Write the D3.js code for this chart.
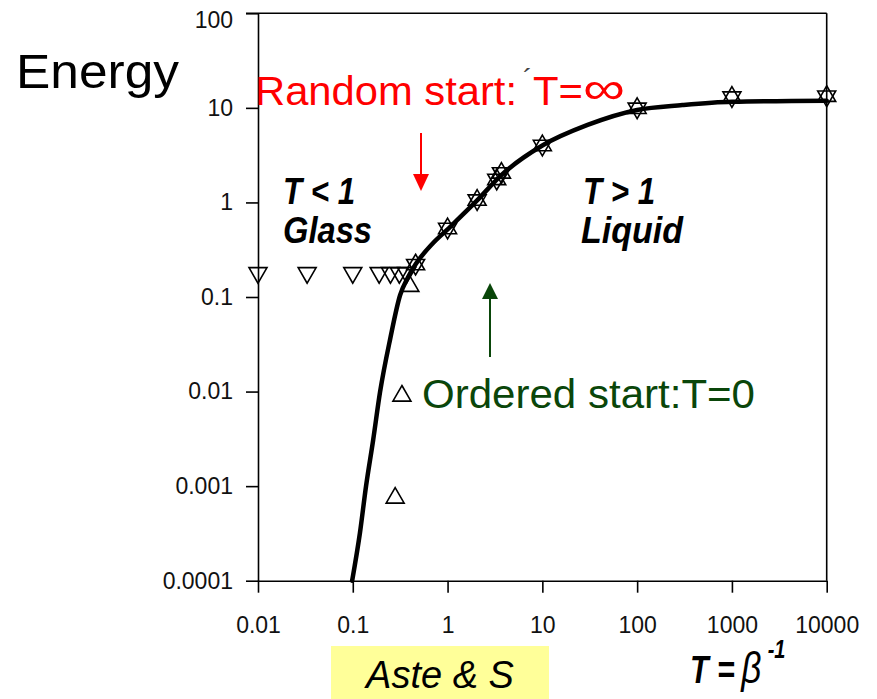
<!DOCTYPE html>
<html>
<head>
<meta charset="utf-8">
<script src="https://cdn.jsdelivr.net/npm/d3@7"></script>
<style>
  body { margin: 0; background: #fff; }
  svg { display: block; }
  text { font-family: "Liberation Sans", Arial, sans-serif; }
</style>
</head>
<body>
<svg id="chart" width="877" height="699"></svg>
<script>
// Axis ticks
const xTicks = [0.01, 0.1, 1, 10, 100, 1000, 10000];
const xTickLabels = ["0.01", "0.1", "1", "10", "100", "1000", "10000"];
const yTicks = [0.0001, 0.001, 0.01, 0.1, 1, 10, 100];
const yTickLabels = ["0.0001", "0.001", "0.01", "0.1", "1", "10", "100"];

// Random start (T = infinity) runs: down triangles
const randomT = [0.01, 0.033, 0.1, 0.19, 0.25, 0.31, 0.37, 0.46, 1, 2.05, 3.3, 3.7, 10, 100, 1000, 10000];
const randomE = [0.18, 0.18, 0.18, 0.18, 0.18, 0.18, 0.18, 0.22, 0.53, 1.06, 1.75, 2.05, 4.0, 9.9, 13, 13.3];

// Ordered start (T = 0) runs: up triangles
const orderedT = [0.28, 0.33, 0.4, 0.46, 1, 2.05, 3.3, 3.7, 10, 100, 1000, 10000];
const orderedE = [0.00075, 0.009, 0.13, 0.22, 0.53, 1.06, 1.75, 2.05, 4.0, 9.9, 13, 13.3];

// Fitted energy curve
const fitT = [0.0985, 0.119, 0.138, 0.164, 0.194, 0.248, 0.316, 0.38, 0.46, 0.7, 1, 2.05, 3.6, 10, 30, 100, 300, 1000, 10000];
const fitE = [0.0001, 0.00032, 0.001, 0.00307, 0.0099, 0.036, 0.105, 0.16, 0.222, 0.37, 0.52, 1.05, 1.9, 4.0, 6.6, 9.5, 10.7, 11.6, 11.9];

const svg = d3.select("#chart");

const x = d3.scaleLog().domain([0.01, 10000]).range([258, 826.7]);
const y = d3.scaleLog().domain([0.0001, 100]).range([580.7, 13.3]);

// Frame: top and right edges
svg.append("line")
  .attr("x1", 246).attr("x2", x(10000))
  .attr("y1", y(100)).attr("y2", y(100))
  .attr("stroke", "#000").attr("stroke-width", 1.6);
svg.append("line")
  .attr("x1", x(10000)).attr("x2", x(10000))
  .attr("y1", y(100)).attr("y2", y(0.0001))
  .attr("stroke", "#000").attr("stroke-width", 1.6);

// Bottom axis
const gx = svg.append("g")
  .attr("transform", `translate(0,${y(0.0001)})`)
  .call(d3.axisBottom(x).tickValues(xTicks)
    .tickFormat((d, i) => xTickLabels[i])
    .tickSize(12).tickSizeOuter(0).tickPadding(24));
gx.selectAll("path, line").attr("stroke", "#000").attr("stroke-width", 1.6);
gx.selectAll("text").attr("font-size", 23).attr("fill", "#111")
  .style("font-family", '"Liberation Sans", Arial, sans-serif');

// Left axis
const gy = svg.append("g")
  .attr("transform", `translate(${x(0.01)},0)`)
  .call(d3.axisLeft(y).tickValues(yTicks)
    .tickFormat((d, i) => yTickLabels[i])
    .tickSize(12).tickSizeOuter(0).tickPadding(13));
gy.selectAll("path, line").attr("stroke", "#000").attr("stroke-width", 1.6);
gy.selectAll("text").attr("font-size", 23).attr("fill", "#111")
  .style("font-family", '"Liberation Sans", Arial, sans-serif')
  .attr("dy", d => d === 100 ? "0.6em" : "0.32em");

// Fitted curve
const fit = fitT.map((t, i) => ({ T: t, E: fitE[i] }));
svg.append("path")
  .datum(fit)
  .attr("fill", "none")
  .attr("stroke", "#000")
  .attr("stroke-width", 4.5)
  .attr("stroke-linecap", "round")
  .attr("d", d3.line().x(d => x(d.T)).y(d => y(d.E)).curve(d3.curveMonotoneX));

// Markers
const tri = d3.symbol().type(d3.symbolTriangle).size(140);
const randomPts = randomT.map((t, i) => ({ T: t, E: randomE[i] }));
const orderedPts = orderedT.map((t, i) => ({ T: t, E: orderedE[i] }));

svg.append("g").selectAll("path")
  .data(randomPts).join("path")
  .attr("d", tri)
  .attr("transform", d => `translate(${x(d.T)},${y(d.E)}) rotate(180)`)
  .attr("fill", "none").attr("stroke", "#000").attr("stroke-width", 1.6);

svg.append("g").selectAll("path")
  .data(orderedPts).join("path")
  .attr("d", tri)
  .attr("transform", d => `translate(${x(d.T)},${y(d.E)})`)
  .attr("fill", "none").attr("stroke", "#000").attr("stroke-width", 1.6);

// Region labels
const narrow = '"Liberation Sans Narrow", "Arial Narrow", "Liberation Sans", Arial, sans-serif';
function regionLabel(txt, px, py, len) {
  svg.append("text")
    .attr("x", px).attr("y", py)
    .attr("font-size", 36).attr("font-weight", "bold").attr("font-style", "italic")
    .attr("textLength", len).attr("lengthAdjust", "spacingAndGlyphs")
    .style("font-family", narrow)
    .text(txt);
}
regionLabel("T < 1", 283, 204, 72);
regionLabel("Glass", 283, 243, 89);
regionLabel("T > 1", 583, 204, 72);
regionLabel("Liquid", 581, 243, 102);

// Y title
svg.append("text")
  .attr("x", 16).attr("y", 88)
  .attr("font-size", 48)
  .attr("textLength", 163).attr("lengthAdjust", "spacingAndGlyphs")
  .text("Energy");

// Random start annotation
svg.append("text")
  .attr("x", 255).attr("y", 105)
  .attr("font-size", 40).attr("fill", "#ff0000")
  .attr("textLength", 262).attr("lengthAdjust", "spacingAndGlyphs")
  .text("Random start:");
svg.append("text")
  .attr("x", 523).attr("y", 88)
  .attr("font-size", 28).attr("fill", "#444")
  .text("\u00B4");
svg.append("text")
  .attr("x", 533).attr("y", 105)
  .attr("font-size", 40).attr("fill", "#ff0000")
  .attr("textLength", 50).attr("lengthAdjust", "spacingAndGlyphs")
  .text("T=");
svg.append("text")
  .attr("x", 583).attr("y", 104)
  .attr("font-size", 46).attr("fill", "#ff0000")
  .attr("textLength", 42).attr("lengthAdjust", "spacingAndGlyphs")
  .style("font-family", '"DejaVu Sans", sans-serif')
  .attr("font-weight", 200)
  .text("\u221E");

// Red arrow
svg.append("line")
  .attr("x1", 421).attr("x2", 421).attr("y1", 133).attr("y2", 176)
  .attr("stroke", "#ff0000").attr("stroke-width", 2);
svg.append("path")
  .attr("d", "M413,174 L429,174 L421,191 Z")
  .attr("fill", "#ff0000");

// Ordered start annotation
const green = "#0a460a";
svg.append("text")
  .attr("x", 422).attr("y", 408)
  .attr("font-size", 40).attr("fill", green)
  .attr("textLength", 333).attr("lengthAdjust", "spacingAndGlyphs")
  .text("Ordered start:T=0");
svg.append("line")
  .attr("x1", 490).attr("x2", 490).attr("y1", 357).attr("y2", 297)
  .attr("stroke", green).attr("stroke-width", 2);
svg.append("path")
  .attr("d", "M482,299 L498,299 L490,283 Z")
  .attr("fill", green);

// X title: T = beta^-1, one text with tspans, narrowed horizontally
const xt = svg.append("text")
  .attr("transform", "translate(690,683) scale(0.8,1)")
  .attr("font-size", 38).attr("font-style", "italic");
xt.append("tspan").attr("font-weight", "bold").text("T =");
xt.append("tspan").attr("dx", 8).attr("font-size", 44).text("\u03B2");
xt.append("tspan").attr("dx", 8).attr("dy", -25).attr("font-size", 25).attr("font-weight", "bold").text("-1");

// Citation box
svg.append("rect")
  .attr("x", 331).attr("y", 646).attr("width", 218).attr("height", 53)
  .attr("fill", "#ffff99");
svg.append("text")
  .attr("x", 440).attr("y", 688)
  .attr("text-anchor", "middle")
  .attr("font-size", 38).attr("font-style", "italic")
  .text("Aste & S");
</script>
</body>
</html>
